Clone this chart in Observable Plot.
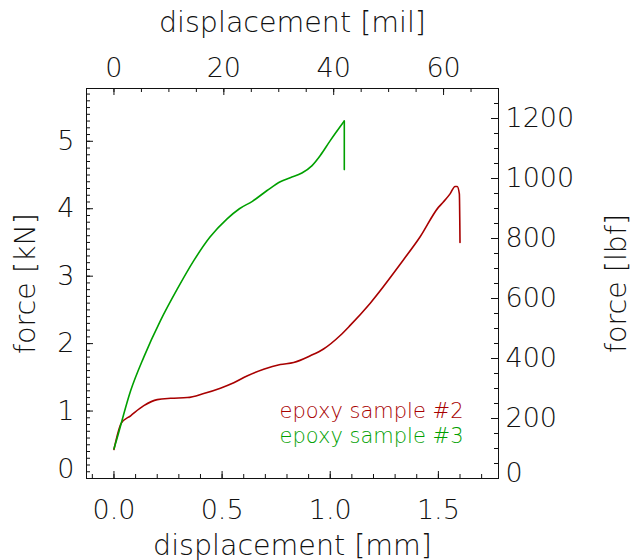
<!DOCTYPE html>
<html>
<head>
<meta charset="utf-8">
<script src="https://cdn.jsdelivr.net/npm/d3@7"></script>
<script src="https://cdn.jsdelivr.net/npm/@observablehq/plot@0.6"></script>
<style>
  html, body { margin: 0; padding: 0; background: #fff; }
  #chart svg { display: block; }
</style>
</head>
<body>
<div id="chart"></div>
<script>
// ---- data (displacement in mm, force in kN) ----
const sample2Disp = [0.000, 0.034, 0.077, 0.138, 0.200, 0.262, 0.339, 0.415, 0.492, 0.554, 0.615, 0.692, 0.769, 0.831, 0.908, 0.969, 1.046, 1.092, 1.185, 1.338, 1.415, 1.500, 1.523, 1.554, 1.577, 1.587, 1.597, 1.600];
const sample2Force = [0.43, 0.82, 0.93, 1.08, 1.17, 1.19, 1.20, 1.26, 1.34, 1.42, 1.52, 1.62, 1.69, 1.72, 1.82, 1.92, 2.12, 2.27, 2.60, 3.24, 3.58, 4.02, 4.10, 4.22, 4.33, 4.33, 4.22, 3.50];

const sample3Disp = [0.000, 0.012, 0.077, 0.138, 0.215, 0.293, 0.369, 0.444, 0.523, 0.580, 0.640, 0.708, 0.769, 0.815, 0.869, 0.916, 0.954, 1.000, 1.065, 1.065];
const sample3Force = [0.44, 0.57, 1.30, 1.80, 2.34, 2.81, 3.23, 3.58, 3.85, 4.00, 4.11, 4.27, 4.40, 4.46, 4.53, 4.64, 4.79, 5.01, 5.30, 4.58];

const seriesNames = ["epoxy sample #2", "epoxy sample #3"];
const seriesColors = ["#a80000", "#00a000"];

// ---- axes ----
const MM_PER_MIL = 0.0254;
const LBF_PER_KN = 224.809;
const xDomainMil = [-5, 70];
const yDomainLbf = [0, 1300];
const mmTicks = [0.0, 0.5, 1.0, 1.5];
const milTicks = [0, 20, 40, 60];
const kNTicks = [0, 1, 2, 3, 4, 5];
const lbfTicks = [0, 200, 400, 600, 800, 1000, 1200];
const mmMinor = d3.range(-1, 18).map(i => i / 10);
const milMinor = d3.range(-5, 71, 5);
const kNMinor = d3.range(0, 58).map(i => i / 10);
const lbfMinor = d3.range(0, 1301, 50);

const toRows = (name, xs, ys) => xs.map((d, i) => ({series: name, disp: d, force: ys[i]}));
const rows2 = toRows(seriesNames[0], sample2Disp, sample2Force);
const rows3 = toRows(seriesNames[1], sample3Disp, sample3Force);
// sample #3 ends with a vertical drop: smooth part + straight drop
const rows3Smooth = rows3.slice(0, -1);
const rows3Drop = rows3.slice(-2);

const W = 631, H = 560;
const mL = 86, mR = 133, mT = 88, mB = 82;
const iw = W - mL - mR, ih = H - mT - mB;
const ink = "#111";
const major = 7, minor = 4;
const titleSize = 28.5;
const lw = 1.6;

const chart = Plot.plot({
  width: W,
  height: H,
  marginLeft: mL,
  marginRight: mR,
  marginTop: mT,
  marginBottom: mB,
  style: {fontFamily: "'DejaVu Sans', sans-serif", fontWeight: 200, fontSize: "27px", color: ink, background: "#fff"},
  x: {domain: xDomainMil.map(m => m * MM_PER_MIL), axis: null},
  y: {domain: yDomainLbf.map(l => l / LBF_PER_KN), axis: null},
  marks: [
    // tick marks (pointing inward)
    Plot.tickX(mmTicks, {x: d => d, insetTop: ih - major, stroke: ink}),
    Plot.tickX(mmMinor, {x: d => d, insetTop: ih - minor, stroke: ink}),
    Plot.tickX(milTicks.map(m => m * MM_PER_MIL), {x: d => d, insetBottom: ih - major, stroke: ink}),
    Plot.tickX(milMinor.map(m => m * MM_PER_MIL), {x: d => d, insetBottom: ih - minor, stroke: ink}),
    Plot.tickY(kNTicks, {y: d => d, insetRight: iw - major, stroke: ink}),
    Plot.tickY(kNMinor, {y: d => d, insetRight: iw - minor, stroke: ink}),
    Plot.tickY(lbfTicks.map(l => l / LBF_PER_KN), {y: d => d, insetLeft: iw - major, stroke: ink}),
    Plot.tickY(lbfMinor.map(l => l / LBF_PER_KN), {y: d => d, insetLeft: iw - minor, stroke: ink}),
    Plot.frame({stroke: ink}),
    // tick labels
    Plot.axisX(mmTicks, {anchor: "bottom", tickSize: 0, tickPadding: 21, tickFormat: d3.format(".1f"), label: null, fill: ink}),
    Plot.axisX(milTicks.map(m => m * MM_PER_MIL), {anchor: "top", tickSize: 0, tickPadding: 12, tickFormat: d => String(Math.round(d / MM_PER_MIL)), label: null, fill: ink}),
    Plot.axisY(kNTicks.filter(d => d !== 0), {anchor: "left", tickSize: 0, tickPadding: 12, tickFormat: d3.format("d"), label: null, fill: ink}),
    Plot.axisY([0], {anchor: "left", tickSize: 0, tickPadding: 12, tickFormat: d3.format("d"), label: null, fill: ink, dy: -9}),
    Plot.axisY(lbfTicks.filter(d => d !== 0).map(l => l / LBF_PER_KN), {anchor: "right", tickSize: 0, tickPadding: 7, tickFormat: d => String(Math.round(d * LBF_PER_KN)), label: null, fill: ink}),
    Plot.axisY([0], {anchor: "right", tickSize: 0, tickPadding: 7, tickFormat: d => String(Math.round(d * LBF_PER_KN)), label: null, fill: ink, dy: -5}),
    // axis titles
    Plot.text(["displacement [mil]"], {frameAnchor: "top", lineAnchor: "middle", dy: -66, fontSize: titleSize, fill: ink}),
    Plot.text(["displacement [mm]"], {frameAnchor: "bottom", lineAnchor: "middle", dy: 67, fontSize: titleSize, fill: ink}),
    Plot.text(["force [kN]"], {frameAnchor: "left", textAnchor: "middle", lineAnchor: "middle", dx: -61, rotate: -90, fontSize: titleSize, fill: ink}),
    Plot.text(["force [lbf]"], {frameAnchor: "right", textAnchor: "middle", lineAnchor: "middle", dx: 118, rotate: -90, fontSize: titleSize, fill: ink}),
    // data lines
    Plot.line(rows2, {x: "disp", y: "force", stroke: seriesColors[0], strokeWidth: lw, curve: "monotone-x"}),
    Plot.line(rows3Smooth, {x: "disp", y: "force", stroke: seriesColors[1], strokeWidth: lw, curve: "monotone-x"}),
    Plot.line(rows3Drop, {x: "disp", y: "force", stroke: seriesColors[1], strokeWidth: lw}),
    // legend
    Plot.text([seriesNames[0]], {frameAnchor: "bottom-right", textAnchor: "end", lineAnchor: "bottom", dx: -35, dy: -61, fontSize: 21, fill: seriesColors[0]}),
    Plot.text([seriesNames[1]], {frameAnchor: "bottom-right", textAnchor: "end", lineAnchor: "bottom", dx: -35, dy: -36, fontSize: 21, fill: seriesColors[1]})
  ]
});
document.getElementById("chart").appendChild(chart);
</script>
</body>
</html>
